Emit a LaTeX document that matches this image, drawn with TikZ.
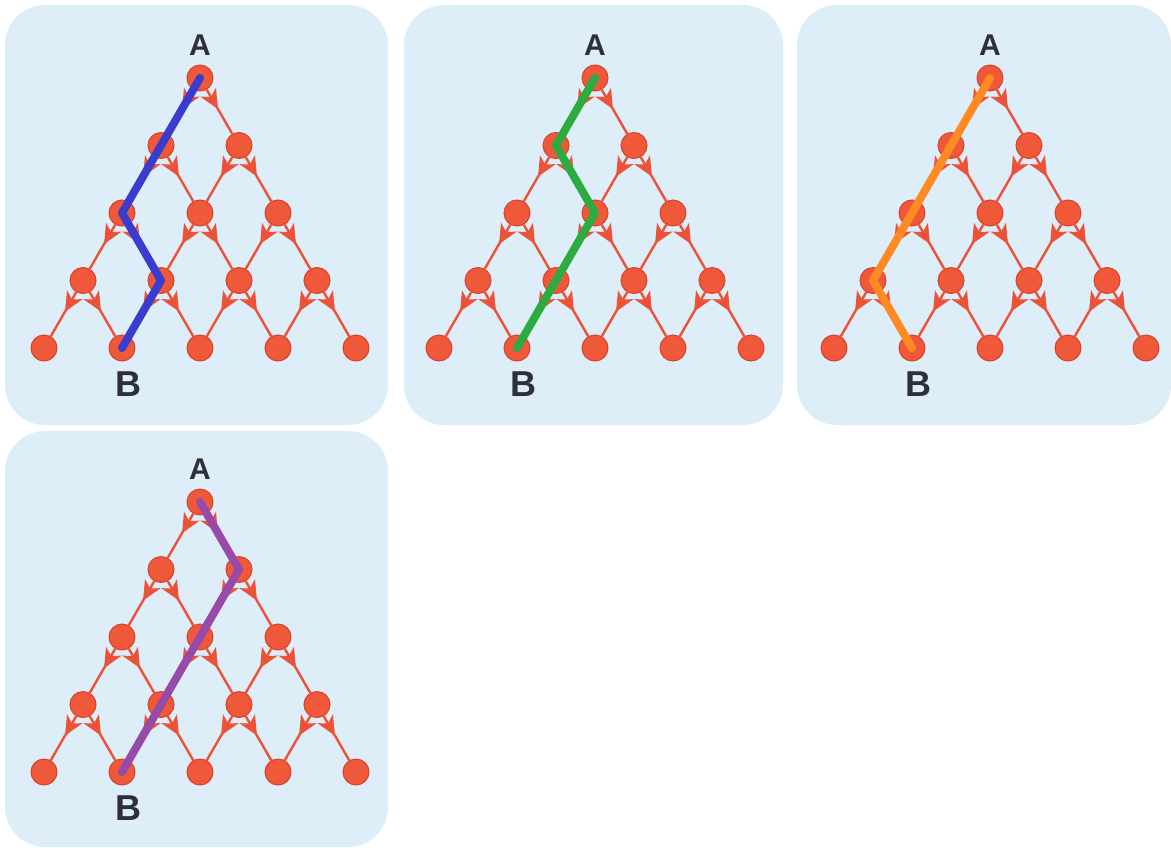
\documentclass[tikz,border=0pt]{standalone}
\usepackage{fontspec}
\setmainfont{Liberation Sans}
\usetikzlibrary{calc}

\definecolor{panelbg}{RGB}{222,238,248}
\definecolor{dotfill}{RGB}{240,88,58}
\definecolor{dotline}{RGB}{214,66,44}
\definecolor{edgecol}{RGB}{236,82,56}
\definecolor{labcol}{RGB}{46,46,62}
\definecolor{pathblue}{RGB}{58,60,205}
\definecolor{pathgreen}{RGB}{44,172,64}
\definecolor{pathorange}{RGB}{255,138,36}
\definecolor{pathpurple}{RGB}{152,74,168}

\tikzset{
  panel/.style={fill=panelbg, rounded corners=40pt},
  dot/.style={circle, minimum size=26pt, inner sep=0pt, fill=dotfill, draw=dotline, line width=1pt},
  edge/.style={draw=edgecol, line width=2.4pt},
  head/.style={fill=edgecol},
  toplab/.style={text=labcol, font=\fontsize{30}{32}\selectfont\bfseries, inner sep=0pt},
  botlab/.style={text=labcol, font=\fontsize{36}{38}\selectfont\bfseries, inner sep=0pt},
  route/.style={line width=8pt, line cap=round, line join=round},
}

% A connector from #1 down to #2 with a barbed head near its start.
\newcommand\downlink[2]{%
  \draw[edge] (#1) -- (#2);
  \path (#1.center) -- (#2.center)
    coordinate[pos=0.46] (hd-tip)
    coordinate[pos=0.21] (hd-base)
    coordinate[pos=0.28] (hd-notch);
  \fill[head] (hd-tip) -- ($(hd-base)!9pt!90:(hd-tip)$) -- (hd-notch)
    -- ($(hd-base)!9pt!-90:(hd-tip)$) -- cycle;%
}

% One triangular lattice of five rows, its arrows pointing downwards,
% with the labels A (apex) and B (second node of the last row).
\newcommand\trilattice[3]{%
  \begin{scope}[shift={(#2,#3)}]
    \foreach \ro in {0,...,4} {
      \foreach \ix in {0,...,\ro} {
        \node[dot] (#1-\ro-\ix) at ({200+(\ix-\ro/2)*78},{78+\ro*67.5}) {};
      }
    }
    \foreach \ro in {0,...,3} {
      \foreach \ix in {0,...,\ro} {
        \pgfmathtruncatemacro\rn{\ro+1}
        \pgfmathtruncatemacro\inx{\ix+1}
        \downlink{#1-\ro-\ix}{#1-\rn-\ix}
        \downlink{#1-\ro-\ix}{#1-\rn-\inx}
      }
    }
    \node[toplab] (#1-A) at (200,45) {A};
    \node[botlab] (#1-B) at (128,384) {B};
  \end{scope}%
}

\begin{document}
\begin{tikzpicture}[x=1pt,y=-1pt]
  \useasboundingbox (0,0) rectangle (1171,847);
  \fill[white] (0,0) rectangle (1171,847);

  % panels
  \fill[panel] (5,5) rectangle (388,425);
  \fill[panel] (404,5) rectangle (783,425);
  \fill[panel] (797,5) rectangle (1171,425);
  \fill[panel] (5,431) rectangle (388,847);

  \trilattice{p1}{0}{0}
  \trilattice{p2}{395}{0}
  \trilattice{p3}{790}{0}
  \trilattice{p4}{0}{424}

  % the four routes from A to B
  \draw[route, pathblue] (p1-0-0.center) -- (p1-1-0.center) -- (p1-2-0.center)
    -- (p1-3-1.center) -- (p1-4-1.center);
  \draw[route, pathgreen] (p2-0-0.center) -- (p2-1-0.center) -- (p2-2-1.center)
    -- (p2-3-1.center) -- (p2-4-1.center);
  \draw[route, pathorange] (p3-0-0.center) -- (p3-1-0.center) -- (p3-2-0.center)
    -- (p3-3-0.center) -- (p3-4-1.center);
  \draw[route, pathpurple] (p4-0-0.center) -- (p4-1-1.center) -- (p4-2-1.center)
    -- (p4-3-1.center) -- (p4-4-1.center);
\end{tikzpicture}
\end{document}
